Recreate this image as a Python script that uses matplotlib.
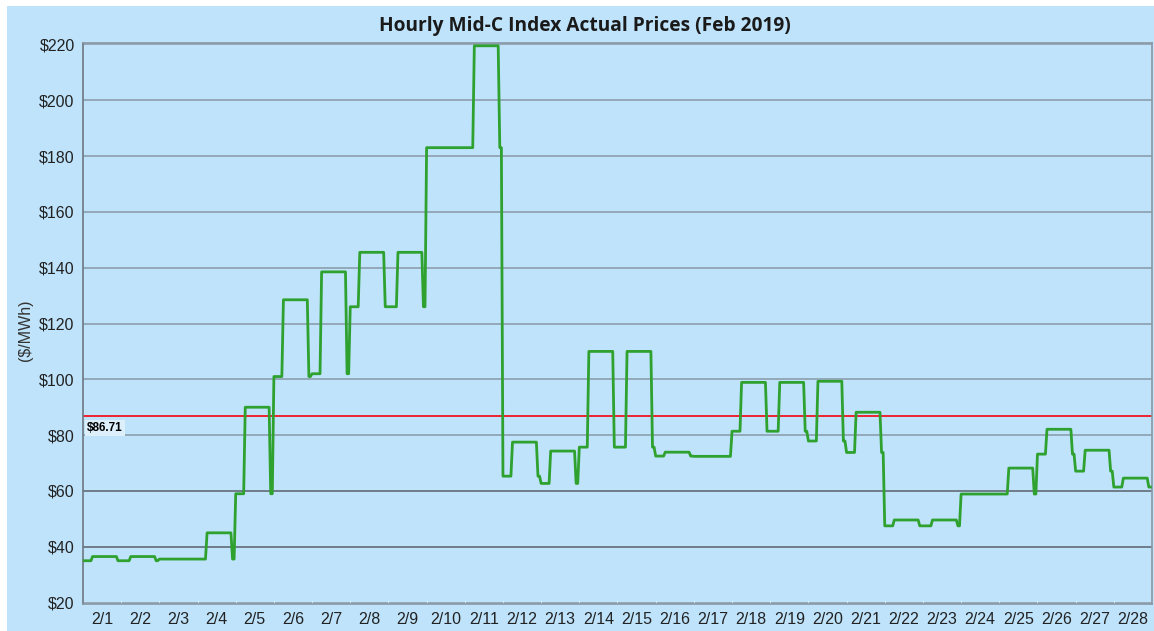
import numpy as np
import matplotlib
matplotlib.use('Agg')
import matplotlib.pyplot as plt
from matplotlib.patches import Rectangle

days = ['2/1', '2/2', '2/3', '2/4', '2/5', '2/6', '2/7', '2/8', '2/9', '2/10',
        '2/11', '2/12', '2/13', '2/14', '2/15', '2/16', '2/17', '2/18', '2/19', '2/20',
        '2/21', '2/22', '2/23', '2/24', '2/25', '2/26', '2/27', '2/28']
# on-peak price (HE7-HE22) and off-peak price per day, sundays are off-peak all day
peak = [36.5, 36.5, 35.6, 45.0, 90.0, 128.5, 138.5, 145.5, 145.5, 183.0,
        219.5, 77.5, 74.3, 110.0, 110.0, 73.9, 72.4, 98.9, 98.9, 99.3,
        88.2, 49.6, 49.6, 58.9, 68.2, 82.1, 74.6, 64.6]
offpeak = [35.0, 35.0, 35.6, 35.6, 59.0, 101.0, 102.0, 126.0, 126.0, 183.0,
           183.0, 65.3, 62.7, 75.7, 75.7, 72.5, 72.4, 81.4, 81.4, 77.9,
           73.8, 47.5, 47.5, 58.9, 58.9, 73.2, 67.1, 61.4]
avg_price = 86.71

hourly = []
for i in range(len(days)):
    hourly += [offpeak[i]] * 6 + [peak[i]] * 16 + [offpeak[i]] * 2
hourly = np.array(hourly)
x = np.arange(len(hourly)) / 24

bg = '#BEE3FB'
fig = plt.figure(figsize=(11.54, 6.31), dpi=100)
fig.patch.set_facecolor('white')
fig.patches.append(Rectangle((7 / 1154, 0), 1, (631 - 6) / 631, transform=fig.transFigure,
                             facecolor=bg, edgecolor='none', zorder=-10))
ax = fig.add_axes([83 / 1154, 27 / 631, 1069 / 1154, 561 / 631])
ax.set_facecolor(bg)

yt = np.arange(20, 221, 20)
for v in yt:
    c = '#6F7D89' if v in (40, 60) else '#93A9BA'
    ax.axhline(v, color=c, lw=1.4, zorder=1)

ax.plot(x, hourly, color='#2FA12F', lw=2.0, zorder=3)
ax.axhline(avg_price, color='#F0141E', lw=1.3, zorder=2)
ax.annotate('$%.2f' % avg_price, xy=(0, avg_price), xytext=(3, -4), textcoords='offset points',
            ha='left', va='top', fontsize=8.5, fontweight='bold', family='Liberation Sans',
            bbox=dict(boxstyle='square,pad=0.15', fc='#DDEFFB', ec='none'), zorder=4)

ax.set_xlim(0, 28)
ax.set_ylim(19.5, 220.5)
ax.set_yticks(yt)
ax.set_yticklabels(['$%d' % v for v in yt], fontsize=11.5, family='Liberation Sans', color='#222222')
ax.set_xticks(np.arange(len(days)) + 0.5)
ax.set_xticklabels(days, fontsize=11.5, family='Liberation Sans', color='#222222')
ax.set_xticks(np.arange(0, 29), minor=True)
ax.tick_params(axis='both', which='major', length=0, pad=6)
ax.tick_params(axis='x', which='minor', length=3, color='#D8ECF8', direction='in')
for s in ax.spines.values():
    s.set_color('#8A98A4')
    s.set_linewidth(1.2)
ax.spines['left'].set_color('#6E7780')

fig.text(25 / 1154, 1 - 330 / 631, '($/MWh)', rotation=90, ha='center', va='center',
         fontsize=11.5, family='Liberation Sans', color='#333333')
fig.text(585 / 1154, 1 - 26 / 631, 'Hourly Mid-C Index Actual Prices (Feb 2019)', ha='center',
         va='center', fontsize=13.8, fontweight='bold', family='Open Sans', color='#1A1A1A')

plt.savefig('out.png', dpi=100, facecolor=fig.get_facecolor())
